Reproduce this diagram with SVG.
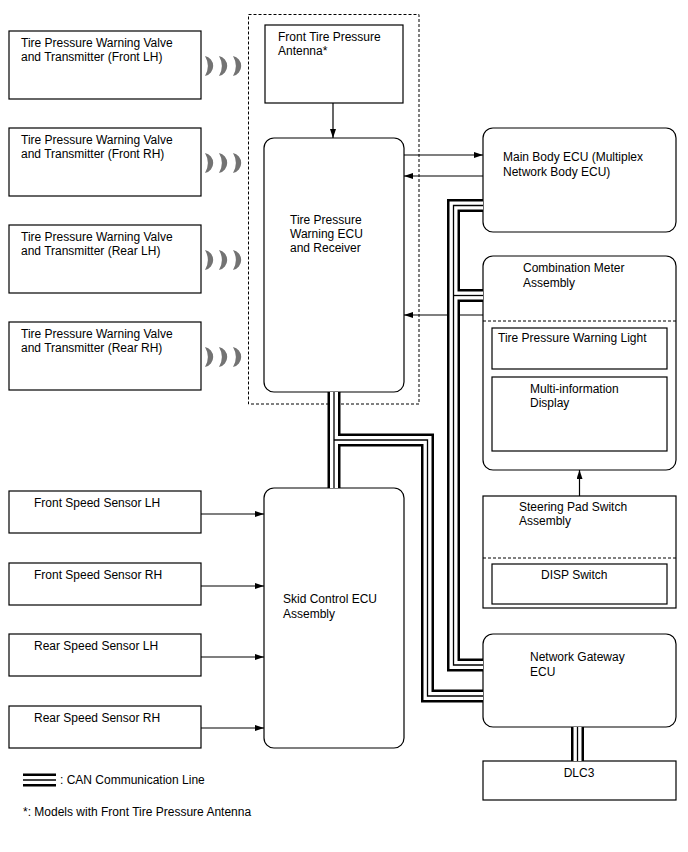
<svg xmlns="http://www.w3.org/2000/svg" width="688" height="852" viewBox="0 0 688 852">
<defs>
<style>
.box{fill:#fff;stroke:#000;stroke-width:1.2}
.dash{fill:none;stroke:#000;stroke-width:1;stroke-dasharray:3 2}
text{font-family:"Liberation Sans",Arial,sans-serif;font-size:12px;fill:#000}
.ln{fill:none;stroke:#000;stroke-width:1.2}
.can1{fill:none;stroke:#000;stroke-width:13;stroke-linejoin:miter}
.can2{fill:none;stroke:#fff;stroke-width:8;stroke-linejoin:miter}
.can3{fill:none;stroke:#000;stroke-width:1.3;stroke-linejoin:miter}
.wave{fill:#737373}
</style>
<marker id="ah" viewBox="0 0 9 6" refX="9" refY="3" markerWidth="9" markerHeight="6" markerUnits="userSpaceOnUse" orient="auto"><path d="M0,0 L9,3 L0,6 z" fill="#000"/></marker>
</defs>
<rect width="688" height="852" fill="#fff"/>

<g id="receiver-group"><rect class="dash" x="248.5" y="14.5" width="170.5" height="389.5"/></g>

<g id="tx-front-lh">
<rect class="box" x="9" y="31" width="192" height="68"/>
<text x="21" y="47">Tire Pressure Warning Valve</text>
<text x="21" y="61">and Transmitter (Front LH)</text>
<path class="wave" d="M205,56 A10.2,10.2 0 0 1 205,76 A20,20 0 0 0 205,56 Z"/>
<path class="wave" d="M219,56 A10.2,10.2 0 0 1 219,76 A20,20 0 0 0 219,56 Z"/>
<path class="wave" d="M233,56 A10.2,10.2 0 0 1 233,76 A20,20 0 0 0 233,56 Z"/>
</g>
<g id="tx-front-rh">
<rect class="box" x="9" y="128" width="192" height="68"/>
<text x="21" y="144">Tire Pressure Warning Valve</text>
<text x="21" y="158">and Transmitter (Front RH)</text>
<path class="wave" d="M205,153 A10.2,10.2 0 0 1 205,173 A20,20 0 0 0 205,153 Z"/>
<path class="wave" d="M219,153 A10.2,10.2 0 0 1 219,173 A20,20 0 0 0 219,153 Z"/>
<path class="wave" d="M233,153 A10.2,10.2 0 0 1 233,173 A20,20 0 0 0 233,153 Z"/>
</g>
<g id="tx-rear-lh">
<rect class="box" x="9" y="225" width="192" height="68"/>
<text x="21" y="241">Tire Pressure Warning Valve</text>
<text x="21" y="255">and Transmitter (Rear LH)</text>
<path class="wave" d="M205,250 A10.2,10.2 0 0 1 205,270 A20,20 0 0 0 205,250 Z"/>
<path class="wave" d="M219,250 A10.2,10.2 0 0 1 219,270 A20,20 0 0 0 219,250 Z"/>
<path class="wave" d="M233,250 A10.2,10.2 0 0 1 233,270 A20,20 0 0 0 233,250 Z"/>
</g>
<g id="tx-rear-rh">
<rect class="box" x="9" y="322" width="192" height="68"/>
<text x="21" y="338">Tire Pressure Warning Valve</text>
<text x="21" y="352">and Transmitter (Rear RH)</text>
<path class="wave" d="M205,347 A10.2,10.2 0 0 1 205,367 A20,20 0 0 0 205,347 Z"/>
<path class="wave" d="M219,347 A10.2,10.2 0 0 1 219,367 A20,20 0 0 0 219,347 Z"/>
<path class="wave" d="M233,347 A10.2,10.2 0 0 1 233,367 A20,20 0 0 0 233,347 Z"/>
</g>

<g id="antenna">
<rect class="box" x="265" y="25" width="138" height="78"/>
<text x="278" y="41">Front Tire Pressure</text>
<text x="278" y="55">Antenna*</text>
</g>

<g id="tpms-ecu">
<rect class="box" x="264" y="138" width="140" height="254" rx="10"/>
<text x="290" y="224">Tire Pressure</text>
<text x="290" y="238">Warning ECU</text>
<text x="290" y="252">and Receiver</text>
</g>

<g id="main-body-ecu">
<rect class="box" x="483" y="128" width="193" height="104" rx="10"/>
<text x="503" y="161">Main Body ECU (Multiplex</text>
<text x="503" y="176">Network Body ECU)</text>
</g>

<g id="combination-meter">
<rect class="box" x="483" y="256" width="193" height="214" rx="10"/>
<text x="523" y="272">Combination Meter</text>
<text x="523" y="287">Assembly</text>
<line class="dash" x1="483" y1="321" x2="676" y2="321"/>
<rect class="box" x="492" y="328" width="175" height="41"/>
<text x="498" y="342">Tire Pressure Warning Light</text>
<rect class="box" x="492" y="377" width="175" height="74"/>
<text x="530" y="393">Multi-information</text>
<text x="530" y="407">Display</text>
</g>

<g id="steering-pad">
<rect class="box" x="483" y="496" width="193" height="112"/>
<text x="519" y="511">Steering Pad Switch</text>
<text x="519" y="525">Assembly</text>
<line class="dash" x1="483" y1="558" x2="676" y2="558"/>
<rect class="box" x="492" y="564" width="175" height="40"/>
<text x="541" y="579">DISP Switch</text>
</g>

<g id="gateway-ecu">
<rect class="box" x="483" y="634" width="193" height="93" rx="10"/>
<text x="530" y="661">Network Gateway</text>
<text x="530" y="676">ECU</text>
</g>

<g id="dlc3">
<rect class="box" x="483" y="761" width="193" height="39"/>
<text x="579" y="777" text-anchor="middle">DLC3</text>
</g>

<g id="skid-ecu">
<rect class="box" x="264" y="488" width="140" height="260" rx="10"/>
<text x="283" y="603">Skid Control ECU</text>
<text x="283" y="618">Assembly</text>
</g>

<g id="speed-fl">
<rect class="box" x="9" y="491" width="192" height="42"/>
<text x="34" y="507">Front Speed Sensor LH</text>
</g>
<g id="speed-fr">
<rect class="box" x="9" y="563" width="192" height="42"/>
<text x="34" y="579">Front Speed Sensor RH</text>
</g>
<g id="speed-rl">
<rect class="box" x="9" y="634" width="192" height="42"/>
<text x="34" y="650">Rear Speed Sensor LH</text>
</g>
<g id="speed-rr">
<rect class="box" x="9" y="706" width="192" height="42"/>
<text x="34" y="722">Rear Speed Sensor RH</text>
</g>

<g id="connectors">
<line class="ln" x1="333" y1="103" x2="333" y2="138" marker-end="url(#ah)"/>
<line class="ln" x1="404" y1="155" x2="483" y2="155" marker-end="url(#ah)"/>
<line class="ln" x1="483" y1="176" x2="404" y2="176" marker-end="url(#ah)"/>
<line class="ln" x1="483" y1="315" x2="404" y2="315" marker-end="url(#ah)"/>
<line class="ln" x1="579.5" y1="496" x2="579.5" y2="470" marker-end="url(#ah)"/>
<line class="ln" x1="201" y1="514" x2="264" y2="514" marker-end="url(#ah)"/>
<line class="ln" x1="201" y1="586" x2="264" y2="586" marker-end="url(#ah)"/>
<line class="ln" x1="201" y1="657" x2="264" y2="657" marker-end="url(#ah)"/>
<line class="ln" x1="201" y1="728" x2="264" y2="728" marker-end="url(#ah)"/>
<g id="can-bus">
<path class="can1" d="M334,392 V488"/>
<path class="can1" d="M334,440 H427.5 V696 H483"/>
<path class="can1" d="M483,205.5 H453.5 V665 H483"/>
<path class="can1" d="M453.5,295.5 H483"/>
<path class="can1" d="M577.5,727 V761"/>
<path class="can2" d="M334,392 V488"/>
<path class="can2" d="M334,440 H427.5 V696 H483"/>
<path class="can2" d="M483,205.5 H453.5 V665 H483"/>
<path class="can2" d="M453.5,295.5 H483"/>
<path class="can2" d="M577.5,727 V761"/>
<path class="can3" d="M334,392 V488"/>
<path class="can3" d="M334,440 H427.5 V696 H483"/>
<path class="can3" d="M483,205.5 H453.5 V665 H483"/>
<path class="can3" d="M453.5,295.5 H483"/>
<path class="can3" d="M577.5,727 V761"/>
</g>
</g>

<g id="legend">
<path class="can1" d="M23,780 H56"/>
<path class="can2" d="M23,780 H56"/>
<path class="can3" d="M23,780 H56"/>
<text x="60" y="784">: CAN Communication Line</text>
<text x="23" y="816">*: Models with Front Tire Pressure Antenna</text>
</g>
</svg>
